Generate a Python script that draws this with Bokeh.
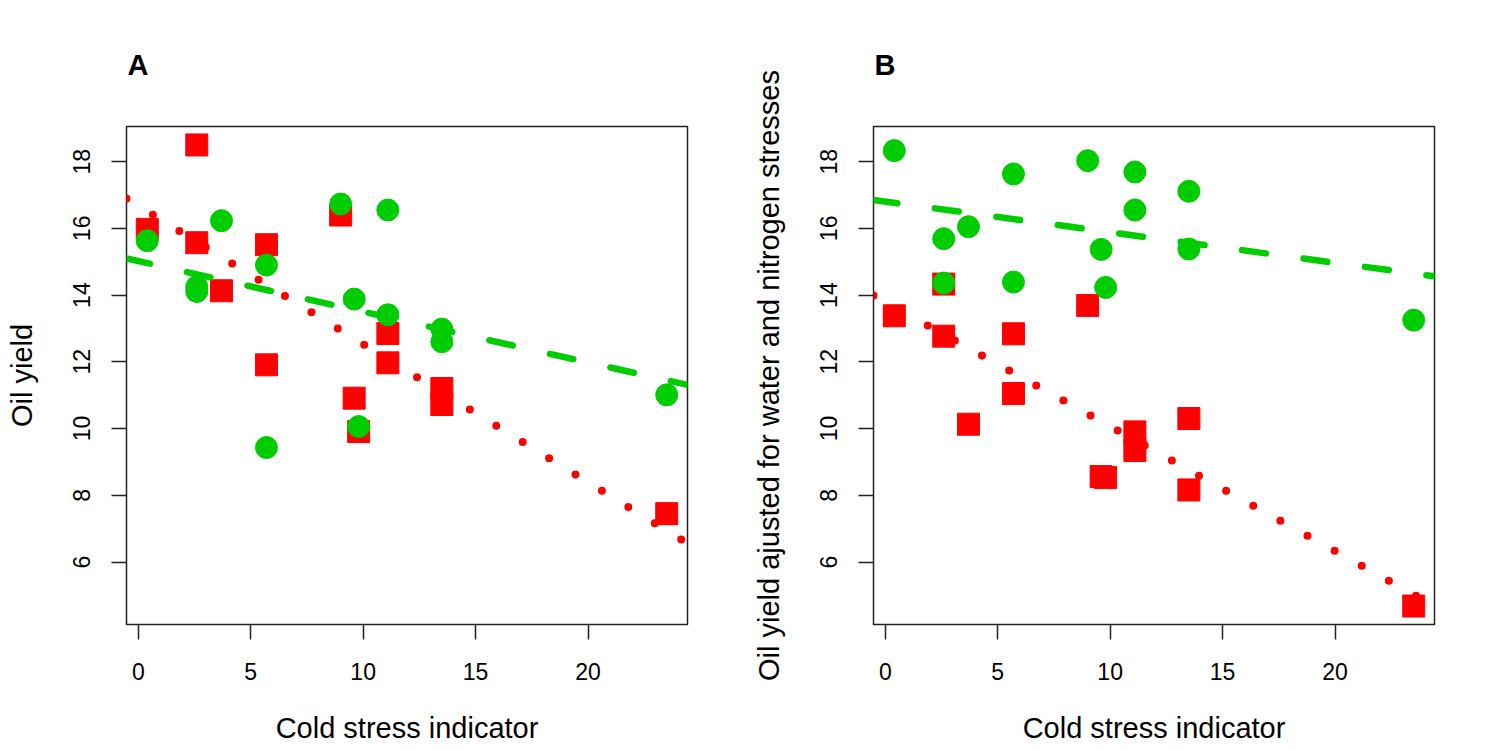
import numpy as np
from bokeh.plotting import figure
from bokeh.layouts import row
from bokeh.models import Range1d, FixedTicker
from bokeh.embed import file_html
from bokeh.resources import INLINE

# ---- data ----
cold_stress = [0.4, 2.6, 2.6, 3.7, 5.7, 5.7, 9.0, 9.6, 9.8, 11.1, 11.1, 13.5, 13.5, 23.5]

a_red = [15.97, 18.5, 15.57, 14.13, 15.51, 11.91, 16.4, 10.91, 9.91, 12.85, 11.97, 11.2, 10.72, 7.45]
a_green = [15.63, 14.25, 14.11, 16.23, 14.90, 9.43, 16.73, 13.88, 10.06, 16.55, 13.41, 12.98, 12.60, 11.01]

b_red = [13.38, 14.33, 12.77, 10.13, 12.84, 11.05, 13.69, 8.56, 8.53, 9.90, 9.34, 10.30, 8.16, 4.68]
b_green = [18.33, 15.69, 14.36, 16.05, 17.63, 14.39, 18.03, 15.37, 14.23, 17.69, 16.55, 17.11, 15.38, 13.25]

x_ticks = [0, 5, 10, 15, 20]
y_ticks = [6, 8, 10, 12, 14, 16, 18]

x_label = "Cold stress indicator"
a_ylabel = "Oil yield"
b_ylabel = "Oil yield ajusted for water and nitrogen stresses"

RED = "#FF0000"
GREEN = "#00CD00"
FONT = "Liberation Sans"


def padded(lo, hi, f=0.04):
    d = (hi - lo) * f
    return lo - d, hi + d


X0, X1 = padded(min(cold_stress), max(cold_stress))
all_y = a_red + a_green + b_red + b_green
Y0, Y1 = padded(min(all_y), max(all_y))


def panel(letter, ylabel, red, green, width, border_left, border_right):
    p = figure(width=width, height=750, output_backend="svg", toolbar_location=None,
               x_range=Range1d(X0, X1), y_range=Range1d(Y0, Y1),
               min_border_left=border_left, min_border_right=border_right,
               min_border_top=126, min_border_bottom=126, title=letter)
    p.background_fill_color = "white"
    p.border_fill_color = "white"
    p.outline_line_color = "#222222"
    p.outline_line_width = 1.5
    p.xgrid.visible = False
    p.ygrid.visible = False

    p.title.text_font = FONT
    p.title.text_font_size = "29px"
    p.title.text_font_style = "bold"
    p.title.text_color = "black"
    p.title.align = "left"
    p.title.offset = 1
    p.title.standoff = 92

    for ax in (p.xaxis[0], p.yaxis[0]):
        ax.axis_line_color = None
        ax.major_tick_out = 15
        ax.major_tick_in = 0
        ax.major_tick_line_width = 1.5
        ax.major_tick_line_color = "#222222"
        ax.minor_tick_line_color = None
        ax.major_label_text_font = FONT
        ax.major_label_text_font_size = "23px"
        ax.major_label_text_color = "black"
        ax.axis_label_text_font = FONT
        ax.axis_label_text_font_size = "29px"
        ax.axis_label_text_font_style = "normal"
        ax.axis_label_text_color = "black"

    p.xaxis.ticker = FixedTicker(ticks=x_ticks)
    p.yaxis.ticker = FixedTicker(ticks=y_ticks)
    p.xaxis.axis_label = x_label
    p.yaxis.axis_label = ylabel
    p.xaxis.major_label_standoff = 23
    p.xaxis.axis_label_standoff = 29
    p.yaxis.major_label_standoff = 21
    p.yaxis.axis_label_standoff = 33
    p.yaxis.major_label_orientation = "vertical"

    p.scatter(cold_stress, red, marker="square", size=22, color=RED)
    p.scatter(cold_stress, green, marker="circle", size=22, color=GREEN)

    xs = [X0, X1]
    sr, ir = np.polyfit(cold_stress, red, 1)
    sg, ig = np.polyfit(cold_stress, green, 1)
    p.line(xs, [ir + sr * x for x in xs], color=RED, line_width=8,
           line_dash="0 31", line_cap="round")
    p.line(xs, [ig + sg * x for x in xs], color=GREEN, line_width=6.5,
           line_dash="24 38", line_cap="round")
    return p


pa = panel("A", a_ylabel, a_red, a_green, 748, 126, 61)
pb = panel("B", b_ylabel, b_red, b_green, 752, 125, 66)

layout = row(pa, pb)
open("out.html", "w").write(file_html(layout, INLINE))
